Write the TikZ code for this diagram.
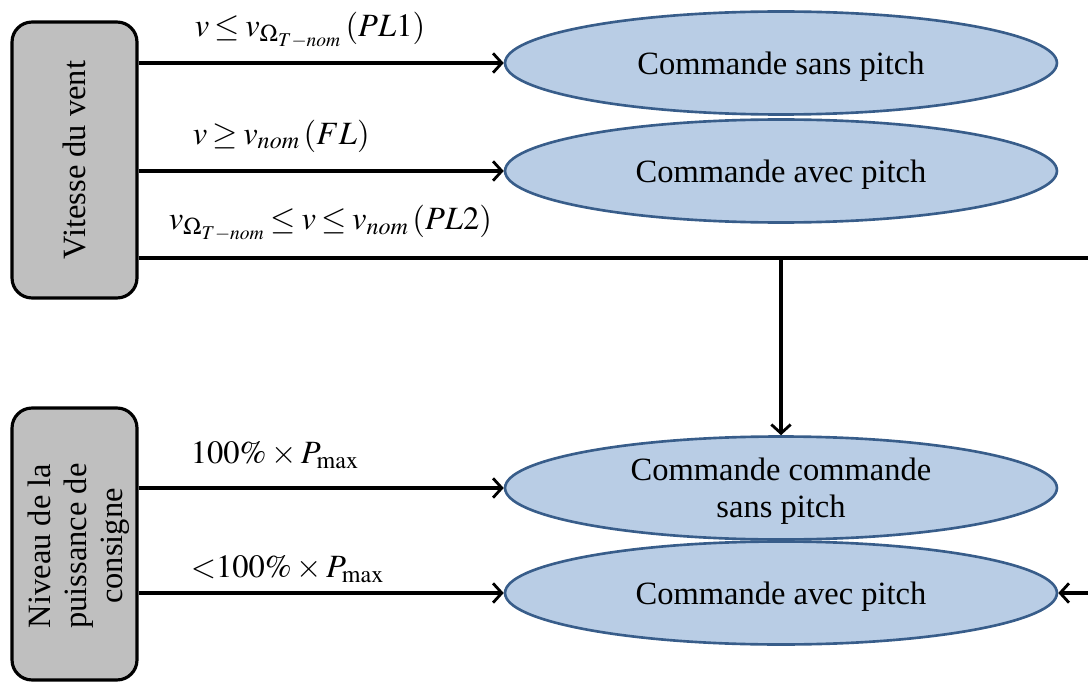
\documentclass[tikz,border=0pt]{standalone}
\usepackage{mathptmx}
\usepackage[no-math]{fontspec}
\setmainfont{Liberation Serif}
\usepackage{xcolor}
\usepackage{tikz}
\usetikzlibrary{shapes.geometric, arrows.meta, positioning, calc}

\definecolor{boxgray}{HTML}{BFBFBF}
\definecolor{ellfill}{HTML}{B9CDE5}
\definecolor{elldraw}{HTML}{385D8A}

\newcommand{\vom}{v_{\Omega_{\scriptscriptstyle T-nom}}}
\thickmuskip=3mu plus 1mu

\begin{document}
\begin{tikzpicture}[x=0.02cm, y=-0.02cm,
    every node/.style={font=\fontsize{18.5}{21}\selectfont},
    entree/.style={draw=black, line width=1.8pt, fill=boxgray, rounded corners=0.4cm,
        minimum width=2.5cm, align=center},
    cmd/.style={ellipse, draw=elldraw, line width=1.5pt, fill=ellfill,
        minimum width=11.04cm, minimum height=2.06cm, align=center, inner sep=0pt, text depth=0pt},
    fleche/.style={line width=1.8pt, -{Straight Barb[length=5pt, width=11pt, line width=1.6pt]}},
    trait/.style={line width=1.8pt}]
            \useasboundingbox (0,0) rectangle (1088,682);
            % entrees
            \node[entree, minimum height=5.52cm] (vit) at (74.5,160) {};
            \node[rotate=90] at (vit.center) {Vitesse du vent};
            \node[entree, minimum height=5.44cm] (niv) at (74.5,544) {};
            \node[rotate=90, align=center, font=\fontsize{18.5}{20.5}\selectfont] at (79,546) {Niveau de la\\puissance de\\consigne};
            % commandes
            \node[cmd] (c1) at (781,63) {Commande sans pitch};
            \node[cmd] (c2) at (781,171) {Commande avec pitch};
            \node[cmd] (c3) at (781,488) {Commande commande\\sans pitch};
            \node[cmd] (c4) at (781,593) {Commande avec pitch};
            \coordinate (split) at (781,258);
            \coordinate (bord) at (1088,258);
            \coordinate (retour) at (1088,593);
            % fleches vitesse
            \draw[fleche] (vit.east |- c1.west) coordinate (v1) -- (c1.west);
            \draw[fleche] (vit.east |- c2.west) coordinate (v2) -- (c2.west);
            \draw[trait] (vit.east |- split) coordinate (v3) -- (bord);
            \draw[fleche] (split) -- (c3.north);
            \node[anchor=west] at ($(v1)+(50,-33)$) {$v \le \vom\left(PL1\right)$};
            \node[anchor=west] at ($(v2)+(48,-35)$) {$v \ge v_{nom}\left(FL\right)$};
            \node[anchor=west] at ($(v3)+(24,-35)$) {$\vom \le v \le v_{nom}\left(PL2\right)$};
            % fleches puissance
            \draw[fleche] (niv.east |- c3.west) coordinate (p1) -- (c3.west);
            \draw[fleche] (niv.east |- c4.west) coordinate (p2) -- (c4.west);
            \draw[fleche] (retour) -- (c4.east);
            \node[anchor=west] at ($(p1)+(46,-33)$) {$100\% \times P_{\max}$};
            \node[anchor=west] at ($(p2)+(46,-24)$) {${<}100\% \times P_{\max}$};
\end{tikzpicture}
\end{document}
